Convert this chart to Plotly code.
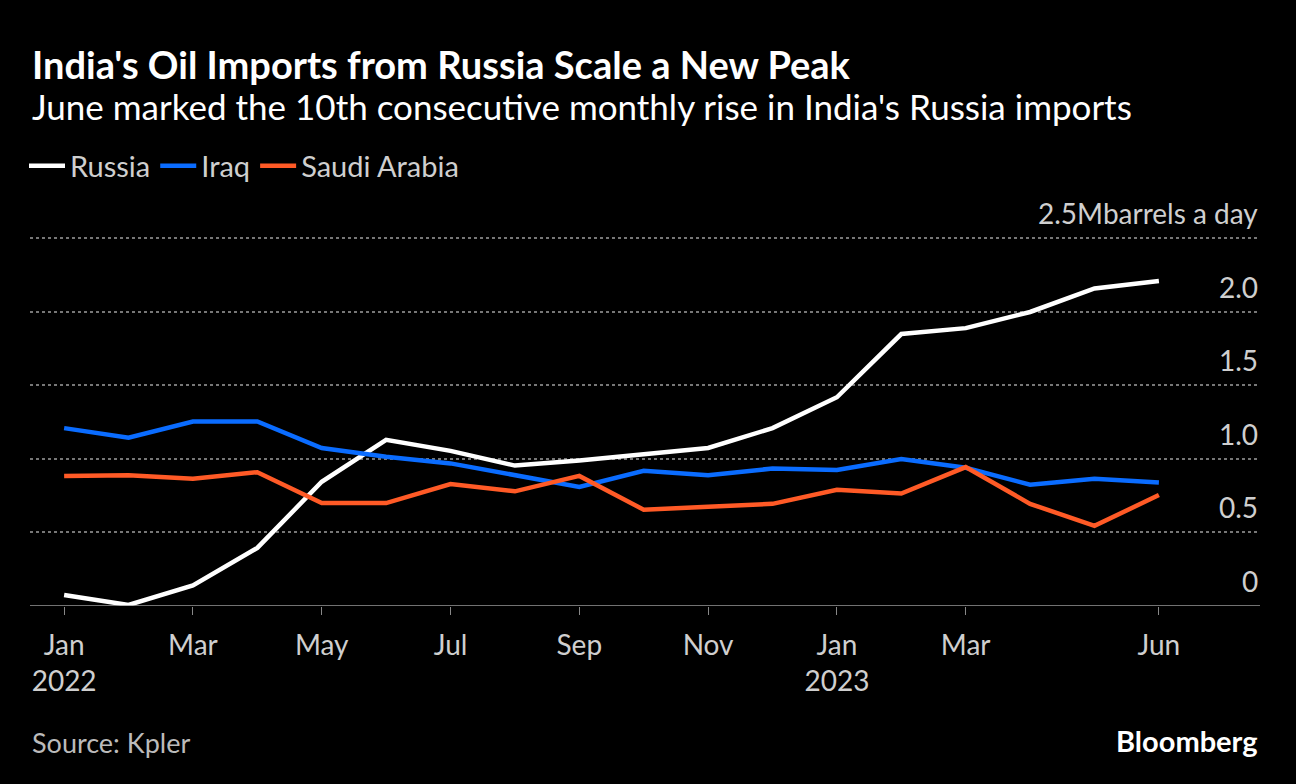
import plotly.graph_objects as go

# month index 0 = Jan 2022 ... 17 = Jun 2023
months = list(range(18))
russia = [0.075, 0.007, 0.14, 0.395, 0.845, 1.13, 1.055, 0.955, 0.99, 1.035,
          1.075, 1.21, 1.42, 1.85, 1.89, 2.0, 2.16, 2.21]
iraq = [1.21, 1.145, 1.255, 1.255, 1.075, 1.015, 0.97, 0.89, 0.81, 0.92,
        0.89, 0.935, 0.925, 1.0, 0.94, 0.825, 0.865, 0.84]
saudi = [0.885, 0.89, 0.865, 0.91, 0.70, 0.70, 0.83, 0.78, 0.885, 0.655,
         0.675, 0.695, 0.79, 0.765, 0.945, 0.695, 0.545, 0.755]

tick_vals = [0, 2, 4, 6, 8, 10, 12, 14, 17]
tick_text = ["Jan<br>2022", "Mar", "May", "Jul", "Sep", "Nov", "Jan<br>2023", "Mar", "Jun"]
y_ticks = [0, 0.5, 1.0, 1.5, 2.0]
y_text = ["0", "0.5", "1.0", "1.5", "2.0"]

FONT = "Lato"
TOP, BOTTOM = 237, 606


def py(pix):
    # pixel row -> paper y
    return (BOTTOM - pix) / (BOTTOM - TOP)


fig = go.Figure()
for name, vals, col in [("Russia", russia, "#ffffff"), ("Iraq", iraq, "#0a6cff"),
                        ("Saudi Arabia", saudi, "#ff5a26")]:
    fig.add_trace(go.Scatter(x=months, y=vals, mode="lines", name=name,
                             line=dict(color=col, width=4.5)))

fig.update_layout(
    width=1296, height=784,
    paper_bgcolor="black", plot_bgcolor="black",
    margin=dict(l=30, r=36, t=TOP, b=784 - BOTTOM),
    font=dict(family=FONT, color="#cfcfcf", size=28),
    showlegend=True,
    legend=dict(orientation="h", x=24 / 1296, xref="container", xanchor="left",
                y=1 - 166 / 784, yref="container", yanchor="middle",
                font=dict(size=29, color="#cfcfcf"), itemwidth=36,
                bgcolor="rgba(0,0,0,0)"),
    xaxis=dict(range=[-0.53, 18.57], tickvals=tick_vals, ticktext=tick_text,
               showgrid=False, zeroline=False, ticks="outside", ticklen=8,
               ticklabelstandoff=6,
               tickcolor="#888", tickfont=dict(size=28, color="#cfcfcf"),
               showline=False),
    yaxis=dict(range=[0, 2.51], tickvals=[0.5, 1.0, 1.5, 2.0, 2.5],
               showticklabels=False, showgrid=True, gridcolor="#777",
               griddash="dot", gridwidth=1.5, zeroline=False),
)
fig.add_shape(type="line", xref="paper", yref="y", x0=0, x1=1, y0=0, y1=0,
              line=dict(color="#999", width=1.5))

for v, t in zip(y_ticks, y_text):
    fig.add_annotation(x=1, xref="paper", xanchor="right", y=v, yref="y",
                       yanchor="bottom", yshift=6, text=t, showarrow=False,
                       font=dict(size=28, color="#cfcfcf"))
fig.add_annotation(x=1, xref="paper", xanchor="right", y=2.5, yref="y",
                   yanchor="bottom", yshift=6, text="2.5Mbarrels a day",
                   showarrow=False, font=dict(size=28, color="#cfcfcf"))

fig.add_annotation(x=0, xref="paper", xanchor="left", y=py(64),
                   yref="paper", yanchor="middle", showarrow=False,
                   text="<b>India's Oil Imports from Russia Scale a New Peak</b>",
                   font=dict(size=38, color="white"))
fig.add_annotation(x=0, xref="paper", xanchor="left", y=py(106),
                   yref="paper", yanchor="middle", showarrow=False,
                   text="June marked the 10th consecutive monthly rise in India's Russia imports",
                   font=dict(size=35, color="white"))
fig.add_annotation(x=0, xref="paper", xanchor="left", y=py(742),
                   yref="paper", yanchor="middle", showarrow=False,
                   text="Source: Kpler", font=dict(size=27, color="#bbbbbb"))
fig.add_annotation(x=1, xref="paper", xanchor="right", y=py(740),
                   yref="paper", yanchor="middle", showarrow=False,
                   text="<b>Bloomberg</b>", font=dict(size=29, color="white"))

fig.write_html("out.html", config={"displayModeBar": False},
               post_script="document.body.style.margin='0';")
